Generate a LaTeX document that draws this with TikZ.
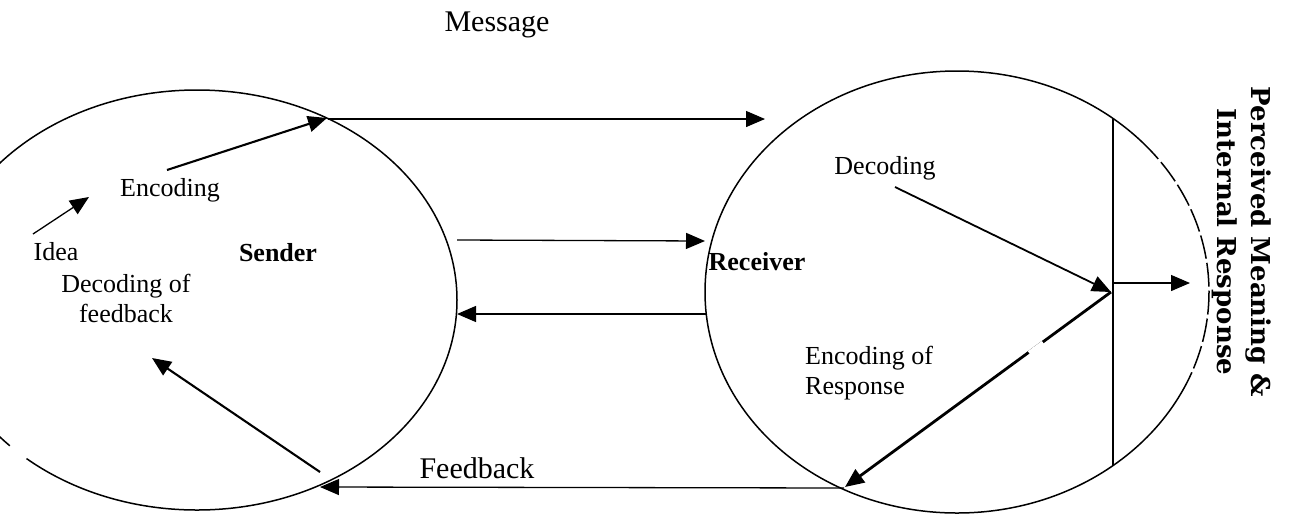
\documentclass[tikz,border=0pt]{standalone}
\usepackage{fontspec}
\setmainfont{Liberation Serif}
\newfontfamily\percfont{DejaVu Serif}
\usetikzlibrary{arrows.meta,shapes.geometric}
\begin{document}
\begin{tikzpicture}[x=1pt,y=-1pt,
  ell/.style={draw, ellipse, line width=1.5pt, inner sep=0pt},
  arr/.style={-{Triangle[length=19pt,width=16pt]}, line width=1.3pt},
  thickarr/.style={arr, line width=2.1pt},
  lbl/.style={font=\fontsize{26}{30}\selectfont, inner sep=0pt},
  blbl/.style={font=\fontsize{26}{30}\selectfont\bfseries, inner sep=0pt},
  big/.style={font=\fontsize{30}{36}\selectfont, inner sep=0pt},
  gap/.style={white, line width=4pt}]
\useasboundingbox (0,0) rectangle (1290,515);
\clip (0,0) rectangle (1290,515);
\fill[white] (0,0) rectangle (1290,515);
% ellipses
\node[ell, minimum width=520pt, minimum height=420pt] (L) at (197,300) {};
\node[ell, minimum width=504pt, minimum height=442pt] (R) at (957,292) {};
% scan gaps in the outlines
\draw[gap, dash pattern=on 4pt off 24pt] (R.center) ++(-37:252 and 221)
  arc[start angle=-37, end angle=27, x radius=252, y radius=221];
\draw[gap] (L.center) ++(131:260 and 210)
  arc[start angle=131, end angle=136, x radius=260, y radius=210];
% labels
\node[big] (msg) at (497,25) {Message};
\node[big] (fb) at (477,468) {Feedback};
\node[lbl] (idea) at (56,252) {Idea};
\node[lbl] (enc) at (170,190) {Encoding};
\node[blbl] (sender) at (278,253) {Sender};
\node[lbl, align=center] (decfb) at (126,298) {Decoding of\\feedback};
\node[lbl] (dec) at (885,168) {Decoding};
\node[blbl] (recv) at (757,262) {Receiver};
\node[lbl, align=left, anchor=west] (encr) at (805,373) {Encoding of\\Response};
\node[font=\percfont\bfseries\fontsize{26}{34}\selectfont, rotate=-90, align=center, inner sep=0pt] (pm) at (1242,242) {Perceived Meaning \&\\Internal Response};
% connector end points
\coordinate (ideaA) at (33,234);
\coordinate (ideaB) at (89,197);
\coordinate (encA) at (167,170);
\coordinate (encB) at (327,118);
\coordinate (msgA) at (328,119);
\coordinate (msgB) at (765,119);
\coordinate (midA) at (457,240);
\coordinate (midB) at (705,241);
\coordinate (retA) at (707,314);
\coordinate (retB) at (457,314);
\coordinate (decA) at (895,187);
\coordinate (meet) at (1111,292);
\coordinate (encrB) at (845,487);
\coordinate (vTop) at (1113,118);
\coordinate (vBot) at (1113,466);
\coordinate (outA) at (1113,283);
\coordinate (outB) at (1190,283);
\coordinate (fbA) at (844,488);
\coordinate (fbB) at (320,487);
\coordinate (dfA) at (320,472);
\coordinate (dfB) at (152,358);
% connectors
\draw[arr] (ideaA) -- (ideaB);
\draw[thickarr] (encA) -- (encB);
\draw[arr] (msgA) -- (msgB);
\draw[arr] (midA) -- (midB);
\draw[arr] (retA) -- (retB);
\draw[arr, line width=1.8pt] (decA) -- (meet);
\draw[arr, line width=2.8pt] (meet) -- (encrB);
\draw[gap] (1043,342.6) -- (1029,352.8);
\draw[line width=1.3pt] (vTop) -- (vBot);
\draw[arr] (outA) -- (outB);
\draw[arr] (fbA) -- (fbB);
\draw[thickarr] (dfA) -- (dfB);
\end{tikzpicture}
\end{document}
